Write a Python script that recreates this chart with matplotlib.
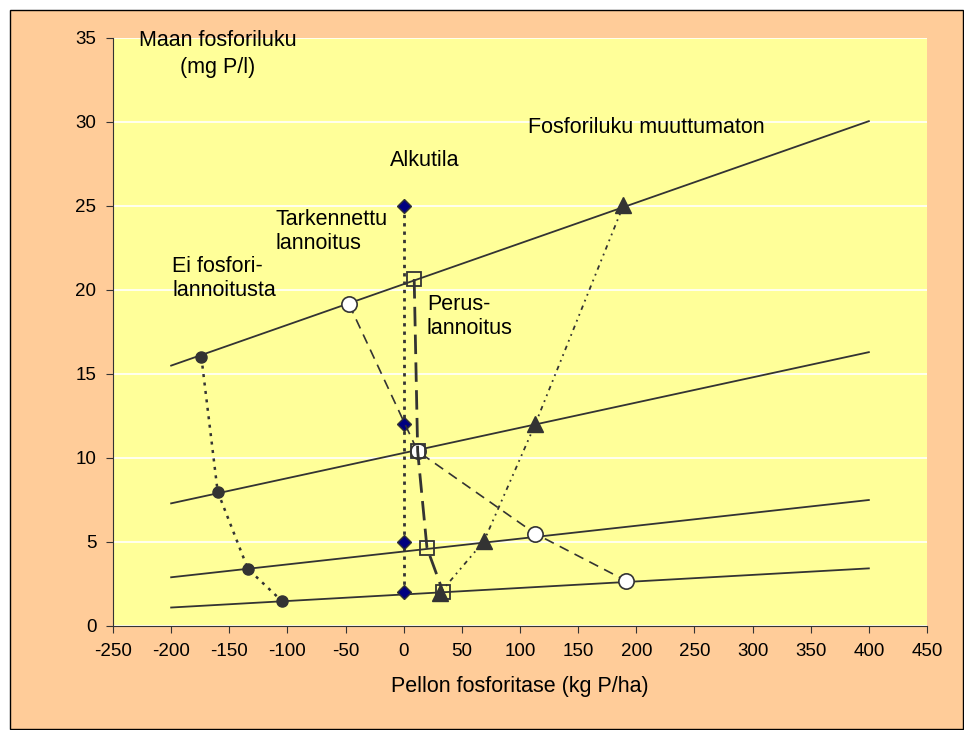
import matplotlib.pyplot as plt
from matplotlib.patches import Rectangle

plt.rcParams['font.family'] = ['Liberation Sans', 'DejaVu Sans']
plt.rcParams['axes.unicode_minus'] = False

# reference lines (fosforitase -200 ... 400)
line_x = [-200, 400]
line_y = [[15.5, 30.05], [7.3, 16.3], [2.9, 7.5], [1.1, 3.43]]

# series
alku_x = [0, 0, 0, 0]
alku_y = [25, 12, 5, 2]

ei_x = [-174, -160, -134, -105]
ei_y = [16.0, 8.0, 3.4, 1.5]

tark_x = [-47, 12, 113, 191]
tark_y = [19.15, 10.4, 5.5, 2.7]

perus_x = [9, 12, 20, 34]
perus_y = [20.65, 10.4, 4.65, 2.0]

muut_x = [189, 113, 69, 31]
muut_y = [25.05, 12.0, 5.05, 1.95]

dark = '#333333'

fig = plt.figure(figsize=(9.64, 7.30), dpi=100)
fig.patch.set_facecolor('white')
fig.patches.append(Rectangle((10 / 964, 1 / 730), 953 / 964, 719 / 730,
                             transform=fig.transFigure, facecolor='#FFCC99',
                             edgecolor='black', linewidth=1, zorder=-10))

ax = fig.add_axes([113 / 964, 1 - 626 / 730, 814 / 964, 588 / 730])
ax.set_facecolor('#FFFF99')

for yy in line_y:
    ax.plot(line_x, yy, color=dark, linewidth=1.3, zorder=3)

ax.plot(alku_x, alku_y, linestyle=(0, (1.2, 1.8)), color=dark, linewidth=2,
        marker='D', markersize=7, markerfacecolor='#000080',
        markeredgecolor=dark, zorder=4)
ax.plot(ei_x, ei_y, linestyle=(0, (1.2, 2.2)), color=dark, linewidth=1.8,
        marker='o', markersize=8, markerfacecolor=dark,
        markeredgecolor=dark, zorder=4)
ax.plot(tark_x, tark_y, linestyle=(0, (6, 4)), color=dark, linewidth=1.2,
        marker='o', markersize=11, markerfacecolor='white',
        markeredgecolor=dark, markeredgewidth=1.2, zorder=5)
ax.plot(perus_x, perus_y, linestyle=(0, (7, 3)), color=dark, linewidth=2,
        marker='s', markersize=10, markerfacecolor='none',
        markeredgecolor=dark, markeredgewidth=1.3, zorder=5)
ax.plot(muut_x, muut_y, linestyle=(0, (2.5, 2.5, 1, 2.5, 1, 2.5)), color=dark,
        linewidth=1.3, marker='^', markersize=11, markerfacecolor=dark,
        markeredgecolor=dark, zorder=4)

ax.set_xlim(-250, 450)
ax.set_ylim(0, 35)
ax.set_xticks(range(-250, 451, 50))
ax.set_yticks(range(0, 36, 5))
ax.yaxis.grid(True, color='white', linewidth=1.2)
ax.set_axisbelow(True)
for s in ['top', 'right']:
    ax.spines[s].set_visible(False)
for s in ['left', 'bottom']:
    ax.spines[s].set_color(dark)
ax.tick_params(direction='out', length=5, color=dark, labelsize=13.5, pad=7)

ax.set_xlabel('Pellon fosforitase (kg P/ha)', fontsize=15.5, labelpad=12)

kw = dict(fontsize=15.5, color='black', zorder=6)
ax.text(-160, 34.05, 'Maan fosforiluku\n(mg P/l)', ha='center', va='center',
        linespacing=1.4, **kw)
ax.text(18, 27.7, 'Alkutila', ha='center', va='center', **kw)
ax.text(107, 29.7, 'Fosforiluku muuttumaton', ha='left', va='center', **kw)
ax.text(-110, 23.5, 'Tarkennettu\nlannoitus', ha='left', va='center',
        linespacing=1.2, **kw)
ax.text(-199, 20.7, 'Ei fosfori-\nlannoitusta', ha='left', va='center',
        linespacing=1.2, **kw)
ax.text(20, 18.4, 'Perus-\nlannoitus', ha='left', va='center',
        linespacing=1.2, **kw)

plt.savefig('out.png', dpi=100)
